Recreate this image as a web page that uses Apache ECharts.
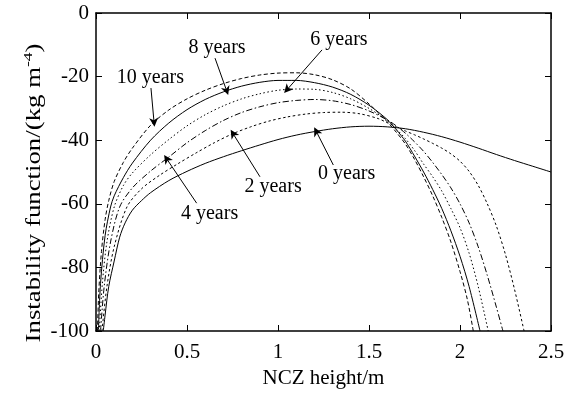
<!DOCTYPE html>
<html>
<head>
<meta charset="utf-8">
<script src="https://cdn.jsdelivr.net/npm/echarts@6/dist/echarts.min.js"></script>
<style>
  html, body { margin: 0; padding: 0; background: #fff; }
  #chart { width: 580px; height: 395px; }
</style>
</head>
<body>
<div id="chart"></div>
<script>
// NCZ height (m) and instability function (kg m^-4) for each age of the pond
const h0  = [0.04, 0.05, 0.07, 0.1, 0.13, 0.16, 0.2, 0.25, 0.3, 0.4, 0.5, 0.6, 0.7, 0.8, 0.9, 1.0, 1.1, 1.2, 1.3, 1.4, 1.5, 1.6, 1.7, 1.8, 1.9, 2.0, 2.1, 2.2, 2.3, 2.4, 2.5];
const f0  = [-100, -95, -86, -78, -70.5, -66, -62, -59, -56.5, -52.7, -49.8, -47.3, -45.2, -43.3, -41.5, -39.8, -38.4, -37.3, -36.4, -35.8, -35.6, -35.8, -36.4, -37.5, -38.9, -40.6, -42.5, -44.5, -46.4, -48.2, -50];

const h2  = [0.033, 0.06, 0.1, 0.17, 0.25, 0.35, 0.45, 0.55, 0.65, 0.75, 0.85, 0.95, 1.05, 1.15, 1.25, 1.35, 1.45, 1.55, 1.6, 1.65, 1.7, 1.75, 1.8, 1.85, 1.9, 1.95, 2.0, 2.05, 2.1, 2.15, 2.2, 2.25, 2.3, 2.352];
const f2  = [-100, -86, -73.5, -61, -55.3, -51, -47.4, -44, -40.8, -38, -35.8, -34, -32.7, -31.8, -31.3, -31.2, -31.7, -33.2, -34.5, -35.8, -37.1, -38.3, -39.6, -41, -42.5, -44.3, -46.6, -49.8, -54.2, -60, -67, -76, -87, -100];

const h4  = [0.025, 0.045, 0.08, 0.13, 0.2, 0.3, 0.4, 0.5, 0.6, 0.7, 0.8, 0.9, 1.0, 1.1, 1.2, 1.3, 1.4, 1.5, 1.6, 1.65, 1.7, 1.75, 1.8, 1.85, 1.9, 1.95, 2.0, 2.05, 2.1, 2.15, 2.2, 2.236];
const f4  = [-100, -86, -72, -61, -55, -49.7, -45.3, -40.8, -37, -33.8, -31.3, -29.5, -28.2, -27.5, -27.2, -27.6, -28.8, -30.8, -33.6, -35.5, -37.8, -40.5, -43.5, -47, -50.8, -55, -60, -66, -73.5, -82.5, -92.5, -100];

const h6  = [0.018, 0.035, 0.06, 0.1, 0.15, 0.2, 0.3, 0.4, 0.5, 0.6, 0.7, 0.8, 0.9, 1.0, 1.1, 1.2, 1.3, 1.4, 1.5, 1.6, 1.65, 1.7, 1.75, 1.8, 1.85, 1.9, 1.95, 2.0, 2.05, 2.1, 2.155];
const f6  = [-100, -85, -72, -61, -54.3, -50.3, -44.6, -39.8, -35.5, -32, -29.2, -27, -25.4, -24.3, -23.9, -24.0, -25.0, -27.0, -30.0, -33.8, -36.5, -39.5, -43.2, -47.5, -51.5, -56, -61.5, -67.5, -75.5, -86, -100];

const h8  = [0.013, 0.025, 0.05, 0.08, 0.1, 0.15, 0.2, 0.3, 0.4, 0.5, 0.6, 0.7, 0.8, 0.9, 1.0, 1.1, 1.2, 1.3, 1.4, 1.5, 1.6, 1.65, 1.7, 1.75, 1.8, 1.85, 1.9, 1.95, 2.0, 2.05, 2.11];
const f8  = [-100, -85, -70, -61, -57.5, -51.8, -47.2, -40, -34.6, -30.4, -27.2, -24.8, -23, -21.8, -21.2, -21.2, -21.9, -23.3, -25.6, -29.0, -33.5, -36.7, -40.3, -45, -50, -55.5, -61.5, -68.5, -76.5, -86, -100];

const h10 = [0.008, 0.015, 0.03, 0.05, 0.07, 0.1, 0.15, 0.2, 0.3, 0.4, 0.5, 0.6, 0.7, 0.8, 0.9, 1.0, 1.1, 1.2, 1.3, 1.4, 1.5, 1.6, 1.65, 1.7, 1.75, 1.8, 1.85, 1.9, 1.95, 2.0, 2.04, 2.073];
const f10 = [-100, -88, -75, -65, -59, -53, -47, -42.5, -35.3, -30.5, -27, -24.3, -22.2, -20.6, -19.5, -18.9, -18.8, -19.4, -21, -23.9, -28.6, -34.2, -37.5, -41.2, -46, -51.5, -57.5, -64.3, -72, -81.3, -90, -100];

const xTicks = [0, 0.5, 1, 1.5, 2, 2.5];
const yTicks = [-100, -80, -60, -40, -20, 0];

// Curve captions: caption text, caption centre, arrow tail, and the height where the arrow meets the curve
const captionText  = ['10 years', '8 years', '6 years', '4 years', '2 years', '0 years'];
const captionPos   = [[0.299, -20.4], [0.665, -11.0], [1.335, -8.5], [0.624, -63.0], [0.973, -54.7], [1.377, -50.6]];
const arrowTail    = [[0.302, -23.6], [0.654, -14.2], [1.242, -11.6], [0.553, -59.8], [0.901, -51.5], [1.304, -47.8]];
const arrowTipH    = [0.319, 0.718, 1.05, 0.388, 0.753, 1.21];

const FONT = '"Liberation Serif", "Times New Roman", serif';

const curves = [
  { x: h10, y: f10, dash: [4, 2.5] },
  { x: h8,  y: f8,  dash: 'solid' },
  { x: h6,  y: f6,  dash: [1.5, 2.5] },
  { x: h4,  y: f4,  dash: [6, 2.5, 1.5, 2.5] },
  { x: h2,  y: f2,  dash: [2.5, 2.5] },
  { x: h0,  y: f0,  dash: 'solid' }
];

function pairs(xs, ys) { return xs.map((v, i) => [v, ys[i]]); }

// value of a curve at height h, read along its polyline
function valueAt(xs, ys, h) {
  for (let i = 0; i < xs.length - 1; i++) {
    if (h >= xs[i] && h <= xs[i + 1]) {
      const t = (h - xs[i]) / (xs[i + 1] - xs[i]);
      return ys[i] + t * (ys[i + 1] - ys[i]);
    }
  }
  return ys[ys.length - 1];
}

const series = curves.map(c => ({
  type: 'line',
  data: pairs(c.x, c.y),
  showSymbol: false,
  smooth: 0.3,
  clip: true,
  silent: true,
  lineStyle: { color: '#000', width: 1, type: c.dash }
}));

series.push({
  type: 'line',
  data: [],
  silent: true,
  markLine: {
    silent: true,
    symbol: ['none', 'path://M5,0 L10,11 L5,8 L0,11 Z'],
    symbolSize: 9,
    label: { show: false },
    lineStyle: { color: '#000', width: 1, type: 'solid' },
    animation: false,
    data: arrowTail.map((tail, i) => {
      const c = curves[i];
      const tip = [arrowTipH[i], valueAt(c.x, c.y, arrowTipH[i])];
      return [{ coord: tail }, { coord: tip }];
    })
  },
  markPoint: {
    silent: true,
    symbol: 'rect',
    symbolSize: 1,
    itemStyle: { color: 'rgba(0,0,0,0)' },
    animation: false,
    label: {
      show: true,
      position: 'inside',
      color: '#000',
      fontFamily: FONT,
      fontSize: 20
    },
    data: captionText.map((t, i) => ({
      coord: captionPos[i],
      value: t,
      label: { formatter: t }
    }))
  }
});

const axisLine = { show: true, onZero: false, lineStyle: { color: '#000', width: 1.5 } };
const axisTick = { show: true, inside: true, length: 6, lineStyle: { color: '#000', width: 1 } };
const labelStyle = { color: '#000', fontFamily: FONT, fontSize: 21 };

const chart = echarts.init(document.getElementById('chart'), null, { renderer: 'canvas' });
chart.setOption({
  animation: false,
  backgroundColor: '#fff',
  grid: { left: 96, right: 29, top: 13, bottom: 64, containLabel: false },
  xAxis: [
    {
      type: 'value', position: 'bottom',
      min: xTicks[0], max: xTicks[xTicks.length - 1], interval: 0.5,
      axisLine, axisTick,
      axisLabel: Object.assign({ margin: 11 }, labelStyle),
      splitLine: { show: false },
      name: 'NCZ height/m', nameLocation: 'middle', nameGap: 33,
      nameTextStyle: labelStyle
    },
    {
      type: 'value', position: 'top',
      min: xTicks[0], max: xTicks[xTicks.length - 1], interval: 0.5,
      axisLine, axisTick,
      axisLabel: { show: false }, splitLine: { show: false }
    }
  ],
  yAxis: [
    {
      type: 'value', position: 'left',
      min: yTicks[0], max: yTicks[yTicks.length - 1], interval: 20,
      axisLine, axisTick,
      axisLabel: Object.assign({ margin: 7 }, labelStyle),
      splitLine: { show: false }
    },
    {
      type: 'value', position: 'right',
      min: yTicks[0], max: yTicks[yTicks.length - 1], interval: 20,
      axisLine, axisTick,
      axisLabel: { show: false }, splitLine: { show: false }
    }
  ],
  // y-axis title, drawn as running text stretched along the axis
  graphic: [{
    type: 'text',
    x: 35, y: 193,
    rotation: Math.PI / 2,
    scaleX: 1.34,
    silent: true,
    style: {
      text: 'Instability function/(kg m{sup|-4})',
      fontFamily: FONT,
      fontSize: 20,
      fill: '#000',
      align: 'center',
      verticalAlign: 'middle',
      rich: { sup: { fontFamily: FONT, fontSize: 13, fill: '#000', padding: [0, 0, 12, 0] } }
    }
  }],
  series
});
</script>
</body>
</html>
